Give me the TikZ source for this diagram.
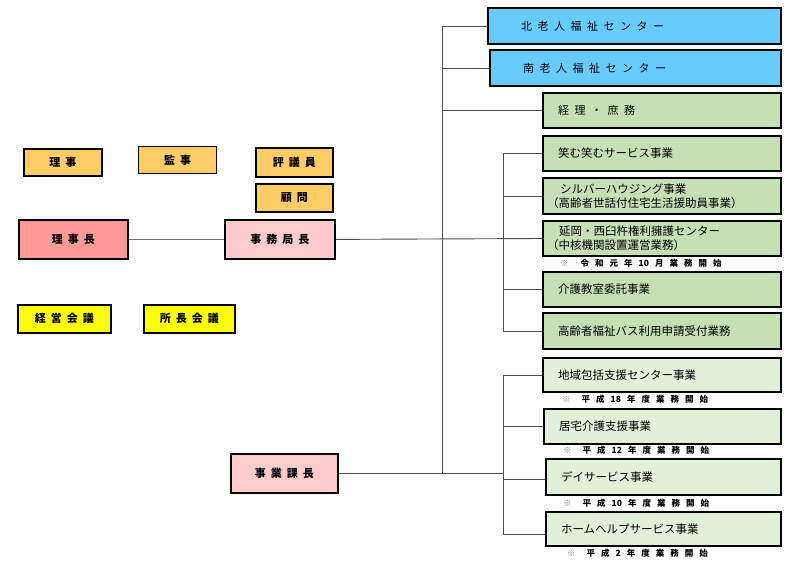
\documentclass[tikz,border=0pt]{standalone}
\usepackage{fontspec}
\setmainfont{Noto Sans CJK JP}
\usetikzlibrary{calc}
\definecolor{cOrange}{HTML}{FFCC66}
\definecolor{cRed}{HTML}{FF9999}
\definecolor{cPink}{HTML}{FFCCCC}
\definecolor{cYellow}{HTML}{FFFF00}
\definecolor{cBlue}{HTML}{66CCFF}
\definecolor{cGreen}{HTML}{C5E0B4}
\definecolor{cLightGreen}{HTML}{E2F0D9}
\definecolor{cLine}{HTML}{4D4D4D}
\newcommand\lsp{\hspace{5pt}}
\newcommand\nsp{\hspace{6pt}}
\newcommand\wsp{\hspace{5.5pt}}
\begin{document}
\begin{tikzpicture}[x=1pt,y=-1pt,
  box/.style={draw=black, line width=1.6pt, anchor=north west, inner sep=0pt,
    align=center, font=\fontsize{11}{12}\selectfont\bfseries},
  obox/.style={box, fill=cOrange},
  rbox/.style={box, fill=cRed, line width=1.8pt},
  pbox/.style={box, fill=cPink, line width=1.8pt},
  ybox/.style={box, fill=cYellow},
  bbox/.style={box, fill=cBlue, line width=2pt, align=left, inner xsep=33pt,
    font=\fontsize{11}{14}\selectfont},
  gbox/.style={box, fill=cGreen, line width=2pt, align=left, inner xsep=15pt,
    text width=208pt, font=\fontsize{11.5}{14}\selectfont},
  lgbox/.style={box, fill=cLightGreen, line width=2pt, align=left, inner xsep=15pt,
    font=\fontsize{11.5}{14}\selectfont},
  note/.style={anchor=west, inner sep=0pt, font=\fontsize{8.5}{10}\selectfont\bfseries},
  conn/.style={draw=cLine, line width=0.9pt},
  mconn/.style={draw=black!55, line width=1.3pt}
]
\useasboundingbox (0,0) rectangle (800,570);

% left side
\node[obox, minimum width=78pt, minimum height=27pt] (riji) at (23,148) {理\lsp 事};
\node[obox, minimum width=78pt, minimum height=27pt, line width=1.2pt] (kanji) at (138,146) {監\lsp 事};
\node[obox, minimum width=77pt, minimum height=29pt] (hyogi) at (255,147) {評\lsp 議\lsp 員};
\node[obox, minimum width=77pt, minimum height=28pt] (komon) at (255,183) {顧\lsp 問};
\node[rbox, minimum width=109pt, minimum height=39pt] (rijicho) at (18,219) {理\lsp 事\lsp 長};
\node[pbox, minimum width=110pt, minimum height=39pt] (jimukyoku) at (224,219) {事\lsp 務\lsp 局\lsp 長};
\node[ybox, minimum width=93pt, minimum height=28pt] (keiei) at (17,304) {経\lsp 営\lsp 会\lsp 議};
\node[ybox, minimum width=91pt, minimum height=28pt] (shocho) at (143,304) {所\lsp 長\lsp 会\lsp 議};
\node[pbox, minimum width=107pt, minimum height=39pt] (jigyo) at (230,453) {事\lsp 業\lsp 課\lsp 長};

% right side
\node[bbox, text width=227pt, minimum height=36pt] (kita) at (487,7)
  {北\wsp 老\wsp 人\wsp 福\wsp 祉\wsp セ\wsp ン\wsp タ\wsp ー};
\node[bbox, text width=225pt, minimum height=36pt] (minami) at (489,49)
  {南\wsp 老\wsp 人\wsp 福\wsp 祉\wsp セ\wsp ン\wsp タ\wsp ー};
\node[gbox, minimum height=35pt, font=\fontsize{11}{14}\selectfont] (keiri) at (542,92) {経\wsp 理\wsp ・\wsp 庶\wsp 務};
\node[gbox, minimum height=35pt] (emu) at (542,135) {笑む笑むサービス事業};
\node[gbox, minimum height=36pt, inner xsep=4pt, text width=230pt] (silver) at (542,177)
  {\hspace*{13pt}シルバーハウジング事業\\（高齢者世話付住宅生活援助員事業）};
\node[gbox, minimum height=35pt, inner xsep=4pt, text width=230pt] (nobeoka) at (542,220)
  {\hspace*{12pt}延岡・西臼杵権利擁護センター\\（中核機関設置運営業務）};
\node[note] (n1) at (560,263)
  {{\color{gray}※}\hspace{12pt}令\nsp 和\nsp 元\nsp 年\nsp 10\nsp 月\nsp 業\nsp 務\nsp 開\nsp 始};
\node[gbox, minimum height=35pt] (kaigo) at (542,271) {介護教室委託事業};
\node[gbox, minimum height=36pt] (bus) at (542,312) {高齢者福祉バス利用申請受付業務};

\node[lgbox, text width=208pt, minimum height=34pt] (chiiki) at (542,357) {地域包括支援センター事業};
\node[note] (n2) at (562,399)
  {{\color{gray}※}\hspace{11pt}平\nsp 成\nsp 18\nsp 年\nsp 度\nsp 業\nsp 務\nsp 開\nsp 始};
\node[lgbox, text width=207pt, minimum height=35pt] (kyotaku) at (543,408) {居宅介護支援事業};
\node[note] (n3) at (563,450)
  {{\color{gray}※}\hspace{11pt}平\nsp 成\nsp 12\nsp 年\nsp 度\nsp 業\nsp 務\nsp 開\nsp 始};
\node[lgbox, text width=205pt, minimum height=36pt] (day) at (545,458) {デイサービス事業};
\node[note] (n4) at (563,503)
  {{\color{gray}※}\hspace{11pt}平\nsp 成\nsp 10\nsp 年\nsp 度\nsp 業\nsp 務\nsp 開\nsp 始};
\node[lgbox, text width=205pt, minimum height=34pt] (home) at (545,511) {ホームヘルプサービス事業};
\node[note] (n5) at (567,553)
  {{\color{gray}※}\hspace{11pt}平\nsp 成\nsp 2\nsp 年\nsp 度\nsp 業\nsp 務\nsp 開\nsp 始};

% trunk x positions
\coordinate (tx) at (442,0);
\coordinate (sx) at (503,0);

% connectors
\draw[mconn] (rijicho.east) -- (jimukyoku.west);
\draw[conn] (jimukyoku.east) -- (nobeoka.west);
\draw[conn] (kita.west) -| (jigyo.east -| tx);
\draw[conn] (minami.west) -- (minami.west -| tx);
\draw[conn] (keiri.west) -- (keiri.west -| tx);
\draw[conn] (jigyo.east) -- (jigyo.east -| sx);

\draw[conn] (emu.west) -| (bus.west -| sx) -- (bus.west);
\draw[conn] (silver.west) -- (silver.west -| sx);
\draw[conn] (kaigo.west) -- (kaigo.west -| sx);

\draw[conn] (chiiki.west) -| ([yshift=-5pt]home.west -| sx) -- ([yshift=-5pt]home.west);
\draw[conn] (kyotaku.west) -- (kyotaku.west -| sx);
\draw[conn] ([yshift=-2pt]day.west) -- ([yshift=-2pt]day.west -| sx);
\end{tikzpicture}
\end{document}
